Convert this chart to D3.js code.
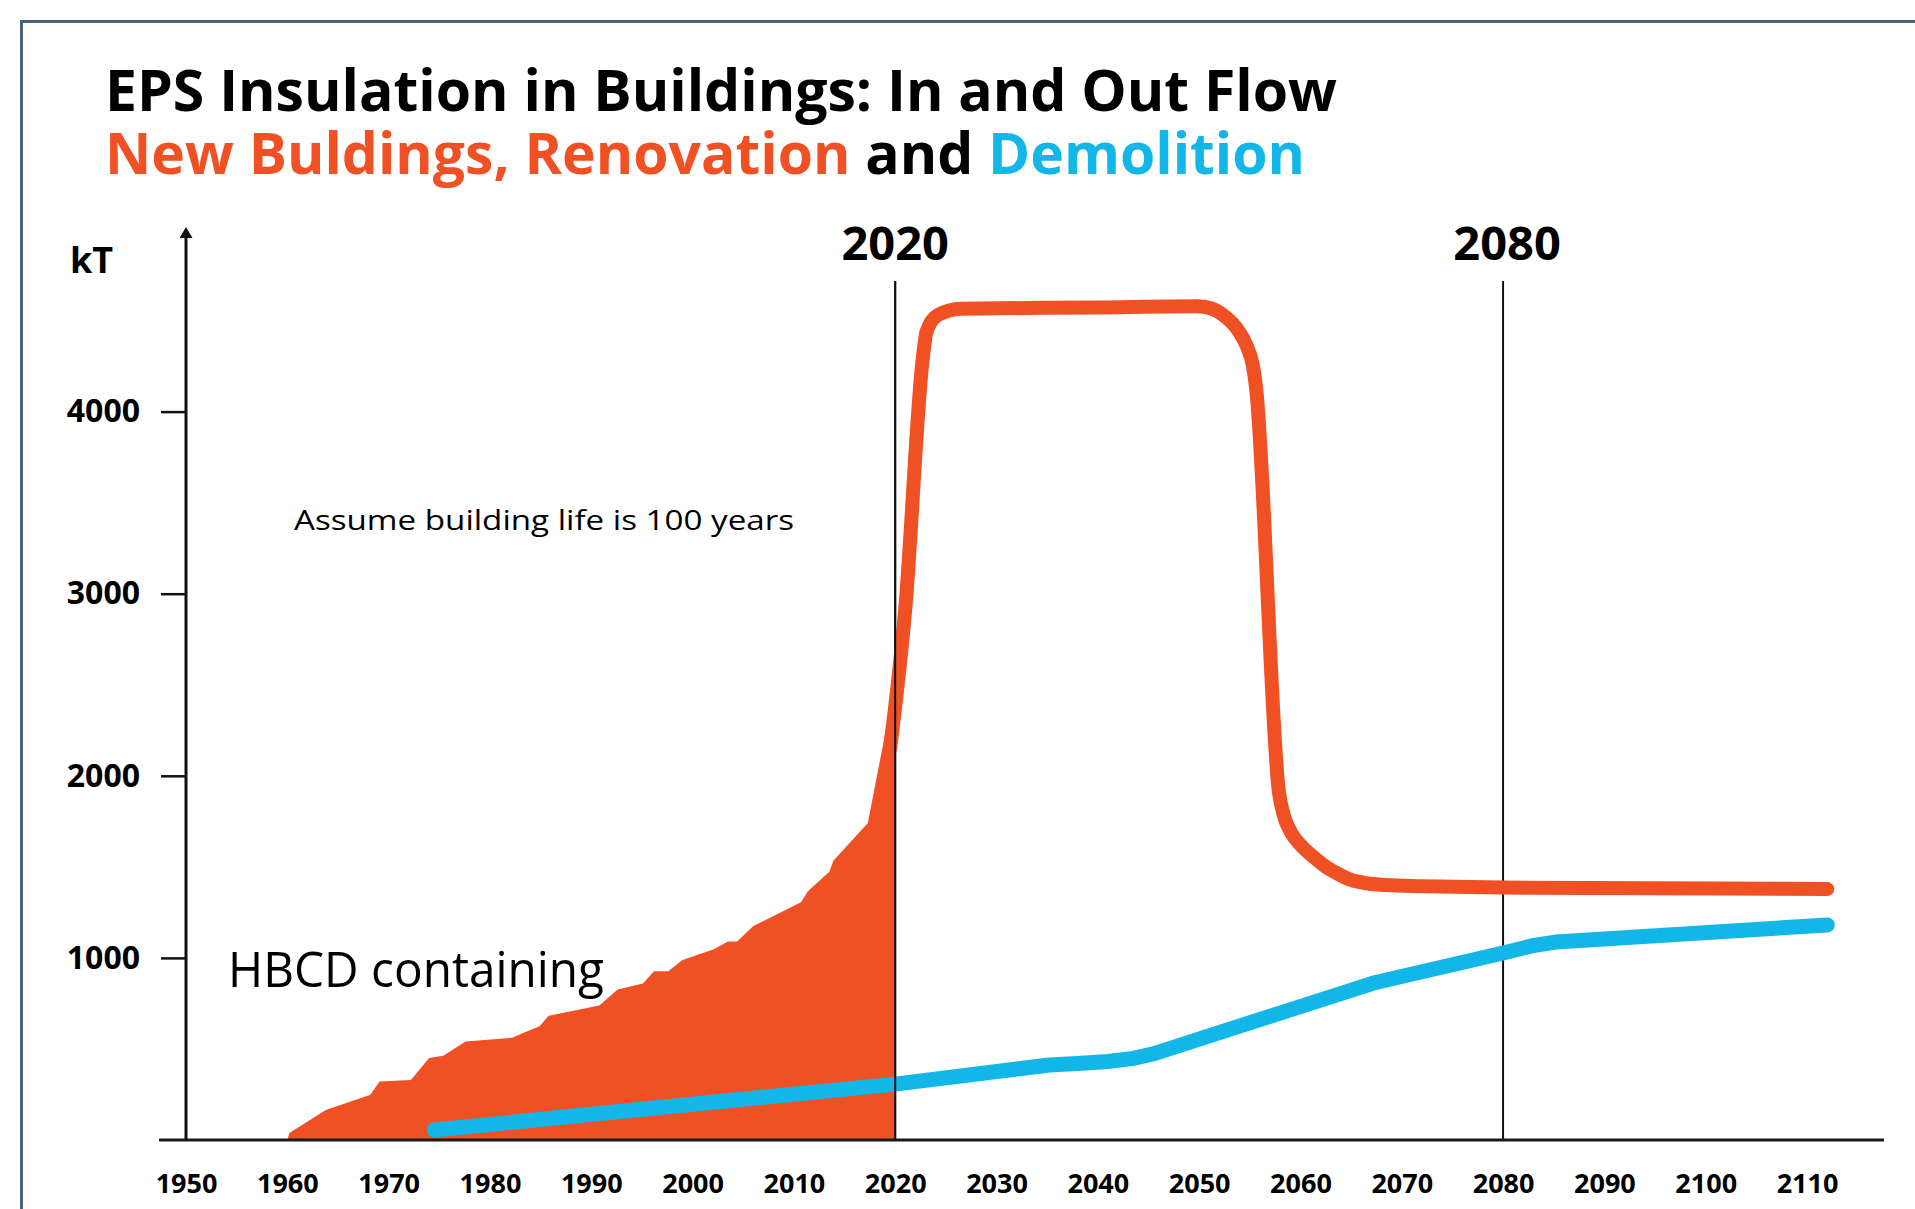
<!DOCTYPE html>
<html>
<head>
<meta charset="utf-8">
<script src="https://cdn.jsdelivr.net/npm/d3@7"></script>
<style>
  body { margin: 0; background: #fff; }
  svg { display: block; font-family: 'Open Sans', sans-serif; }
  .tick text { fill: #000; font-weight: 700; }
</style>
</head>
<body>
<svg class="chart" width="1915" height="1209"></svg>
<script>
const xTicks = [1950, 1960, 1970, 1980, 1990, 2000, 2010, 2020, 2030, 2040, 2050, 2060, 2070, 2080, 2090, 2100, 2110]
const yTicks = [1000, 2000, 3000, 4000]
const markerYears = [2020, 2080]

// HBCD containing stock (filled), year / kT
const hbcdFill = [
  [1960, 0], [1960.2, 38], [1963.8, 165], [1968.2, 248], [1969.1, 321], [1972.2, 330],
  [1974.0, 450], [1975.4, 463], [1977.6, 541], [1982.2, 561], [1983.8, 600], [1984.9, 624],
  [1985.8, 683], [1990.8, 738], [1992.6, 826], [1995.1, 859], [1996.2, 927], [1997.6, 927],
  [1999.0, 988], [2002.1, 1047], [2003.5, 1090], [2004.4, 1090], [2006.0, 1175], [2010.7, 1305],
  [2011.4, 1368], [2013.5, 1473], [2013.9, 1534], [2017.3, 1741], [2019.1, 2257], [2020, 2420],
]

// new buildings + renovation inflow
const inflow = [
  [2019.5, 2150], [2021, 2920], [2022.7, 4280], [2023.1, 4440], [2024.2, 4530], [2026.5, 4565],
  [2040, 4572], [2049.8, 4578], [2051.2, 4566], [2052.6, 4520], [2053.8, 4450], [2054.7, 4360],
  [2055.3, 4254], [2055.6, 4141], [2057.9, 1901], [2058.4, 1774], [2059.1, 1686], [2060.1, 1615],
  [2061.3, 1554], [2062.4, 1505], [2063.6, 1465], [2065, 1428], [2066.5, 1410], [2068.5, 1400],
  [2072, 1394], [2080, 1386], [2112, 1378],
]

// demolition outflow
const demolition = [
  [1974.5, 55], [2020, 307], [2035.2, 412], [2038, 420], [2041, 431], [2043.5, 448],
  [2045.4, 472], [2067.2, 862], [2080, 1027], [2083, 1068], [2085.2, 1087], [2112, 1181],
]

const orange = '#f05124'
const blue = '#12b7e7'

const svg = d3.select('svg.chart')

const x = d3.scaleLinear().domain([1950, 2110]).range([186, 1807])
const y = d3.scaleLinear().domain([0, 4000]).range([1140, 411.6])

// frame
svg.append('path')
  .attr('d', 'M21.5,1209 V21.5 H1915')
  .attr('fill', 'none')
  .attr('stroke', '#4a6373')
  .attr('stroke-width', 3)

// titles
svg.append('text')
  .attr('x', 105)
  .attr('y', 111)
  .attr('font-size', 58)
  .attr('font-weight', 700)
  .attr('textLength', 1232)
  .attr('lengthAdjust', 'spacingAndGlyphs')
  .text('EPS Insulation in Buildings: In and Out Flow')

const sub = svg.append('text')
  .attr('x', 105)
  .attr('y', 174)
  .attr('font-size', 58)
  .attr('font-weight', 700)
  .attr('textLength', 1200)
  .attr('lengthAdjust', 'spacingAndGlyphs')
sub.append('tspan').attr('fill', orange).text('New Buldings, Renovation ')
sub.append('tspan').attr('fill', '#000').text('and ')
sub.append('tspan').attr('fill', blue).text('Demolition')

// marker lines
svg.selectAll('line.marker')
  .data(markerYears)
  .enter()
  .append('line')
  .attr('class', 'marker')
  .attr('x1', d => x(d))
  .attr('x2', d => x(d))
  .attr('y1', 281)
  .attr('y2', y(0))
  .attr('stroke', '#111')
  .attr('stroke-width', 2)

svg.selectAll('text.marker')
  .data(markerYears)
  .enter()
  .append('text')
  .attr('class', 'marker')
  .attr('x', (d, i) => x(d) + i * 4)
  .attr('y', 260)
  .attr('text-anchor', 'middle')
  .attr('font-size', 47)
  .attr('font-weight', 700)
  .text(d => d)

// HBCD fill
const area = d3.area()
  .x(d => x(d[0]))
  .y0(y(0))
  .y1(d => y(d[1]))

svg.append('path')
  .datum(hbcdFill)
  .attr('d', area)
  .attr('fill', orange)

// lines
const smooth = d3.line()
  .x(d => x(d[0]))
  .y(d => y(d[1]))
  .curve(d3.curveMonotoneX)

const straight = d3.line()
  .x(d => x(d[0]))
  .y(d => y(d[1]))

svg.append('path')
  .datum(demolition)
  .attr('d', straight)
  .attr('fill', 'none')
  .attr('stroke', blue)
  .attr('stroke-width', 15)
  .attr('stroke-linecap', 'round')
  .attr('stroke-linejoin', 'round')

svg.append('path')
  .datum(inflow)
  .attr('d', smooth)
  .attr('fill', 'none')
  .attr('stroke', orange)
  .attr('stroke-width', 14)
  .attr('stroke-linecap', 'round')
  .attr('stroke-linejoin', 'round')

// redraw 2020 line over the fill
svg.append('line')
  .attr('x1', x(2020))
  .attr('x2', x(2020))
  .attr('y1', 281)
  .attr('y2', y(0))
  .attr('stroke', '#111')
  .attr('stroke-width', 2)

// x axis
const xAxis = svg.append('g')
  .attr('transform', `translate(0, ${y(0)})`)
  .call(d3.axisBottom(x).tickValues(xTicks).tickSize(0).tickPadding(34).tickFormat(d => d))
  .attr('font-family', null)
  .attr('font-size', 27)

xAxis.select('.domain').remove()

svg.append('line')
  .attr('x1', 159)
  .attr('x2', 1884)
  .attr('y1', y(0))
  .attr('y2', y(0))
  .attr('stroke', '#1a1a1a')
  .attr('stroke-width', 3)

// y axis
const yAxis = svg.append('g')
  .attr('transform', `translate(${x(1950)}, 0)`)
  .call(d3.axisLeft(y).tickValues(yTicks).tickSize(25).tickPadding(21).tickFormat(d => d))
  .attr('font-family', null)
  .attr('font-size', 32)

yAxis.select('.domain').remove()
yAxis.selectAll('line').attr('stroke', '#111').attr('stroke-width', 2.5)

svg.append('line')
  .attr('x1', x(1950))
  .attr('x2', x(1950))
  .attr('y1', 236)
  .attr('y2', y(0))
  .attr('stroke', '#111')
  .attr('stroke-width', 3)

svg.append('path')
  .attr('d', `M${x(1950)},227 l6.5,11 h-13 Z`)
  .attr('fill', '#111')

svg.append('text')
  .attr('x', 70)
  .attr('y', 273)
  .attr('font-size', 36)
  .attr('font-weight', 700)
  .text('kT')

// annotations
svg.append('text')
  .attr('x', 294)
  .attr('y', 530)
  .attr('font-size', 28)
  .attr('textLength', 500)
  .attr('lengthAdjust', 'spacingAndGlyphs')
  .text('Assume building life is 100 years')

svg.append('text')
  .attr('x', 228)
  .attr('y', 987)
  .attr('font-size', 49)
  .attr('textLength', 376)
  .attr('lengthAdjust', 'spacingAndGlyphs')
  .text('HBCD containing')
</script>
</body>
</html>
